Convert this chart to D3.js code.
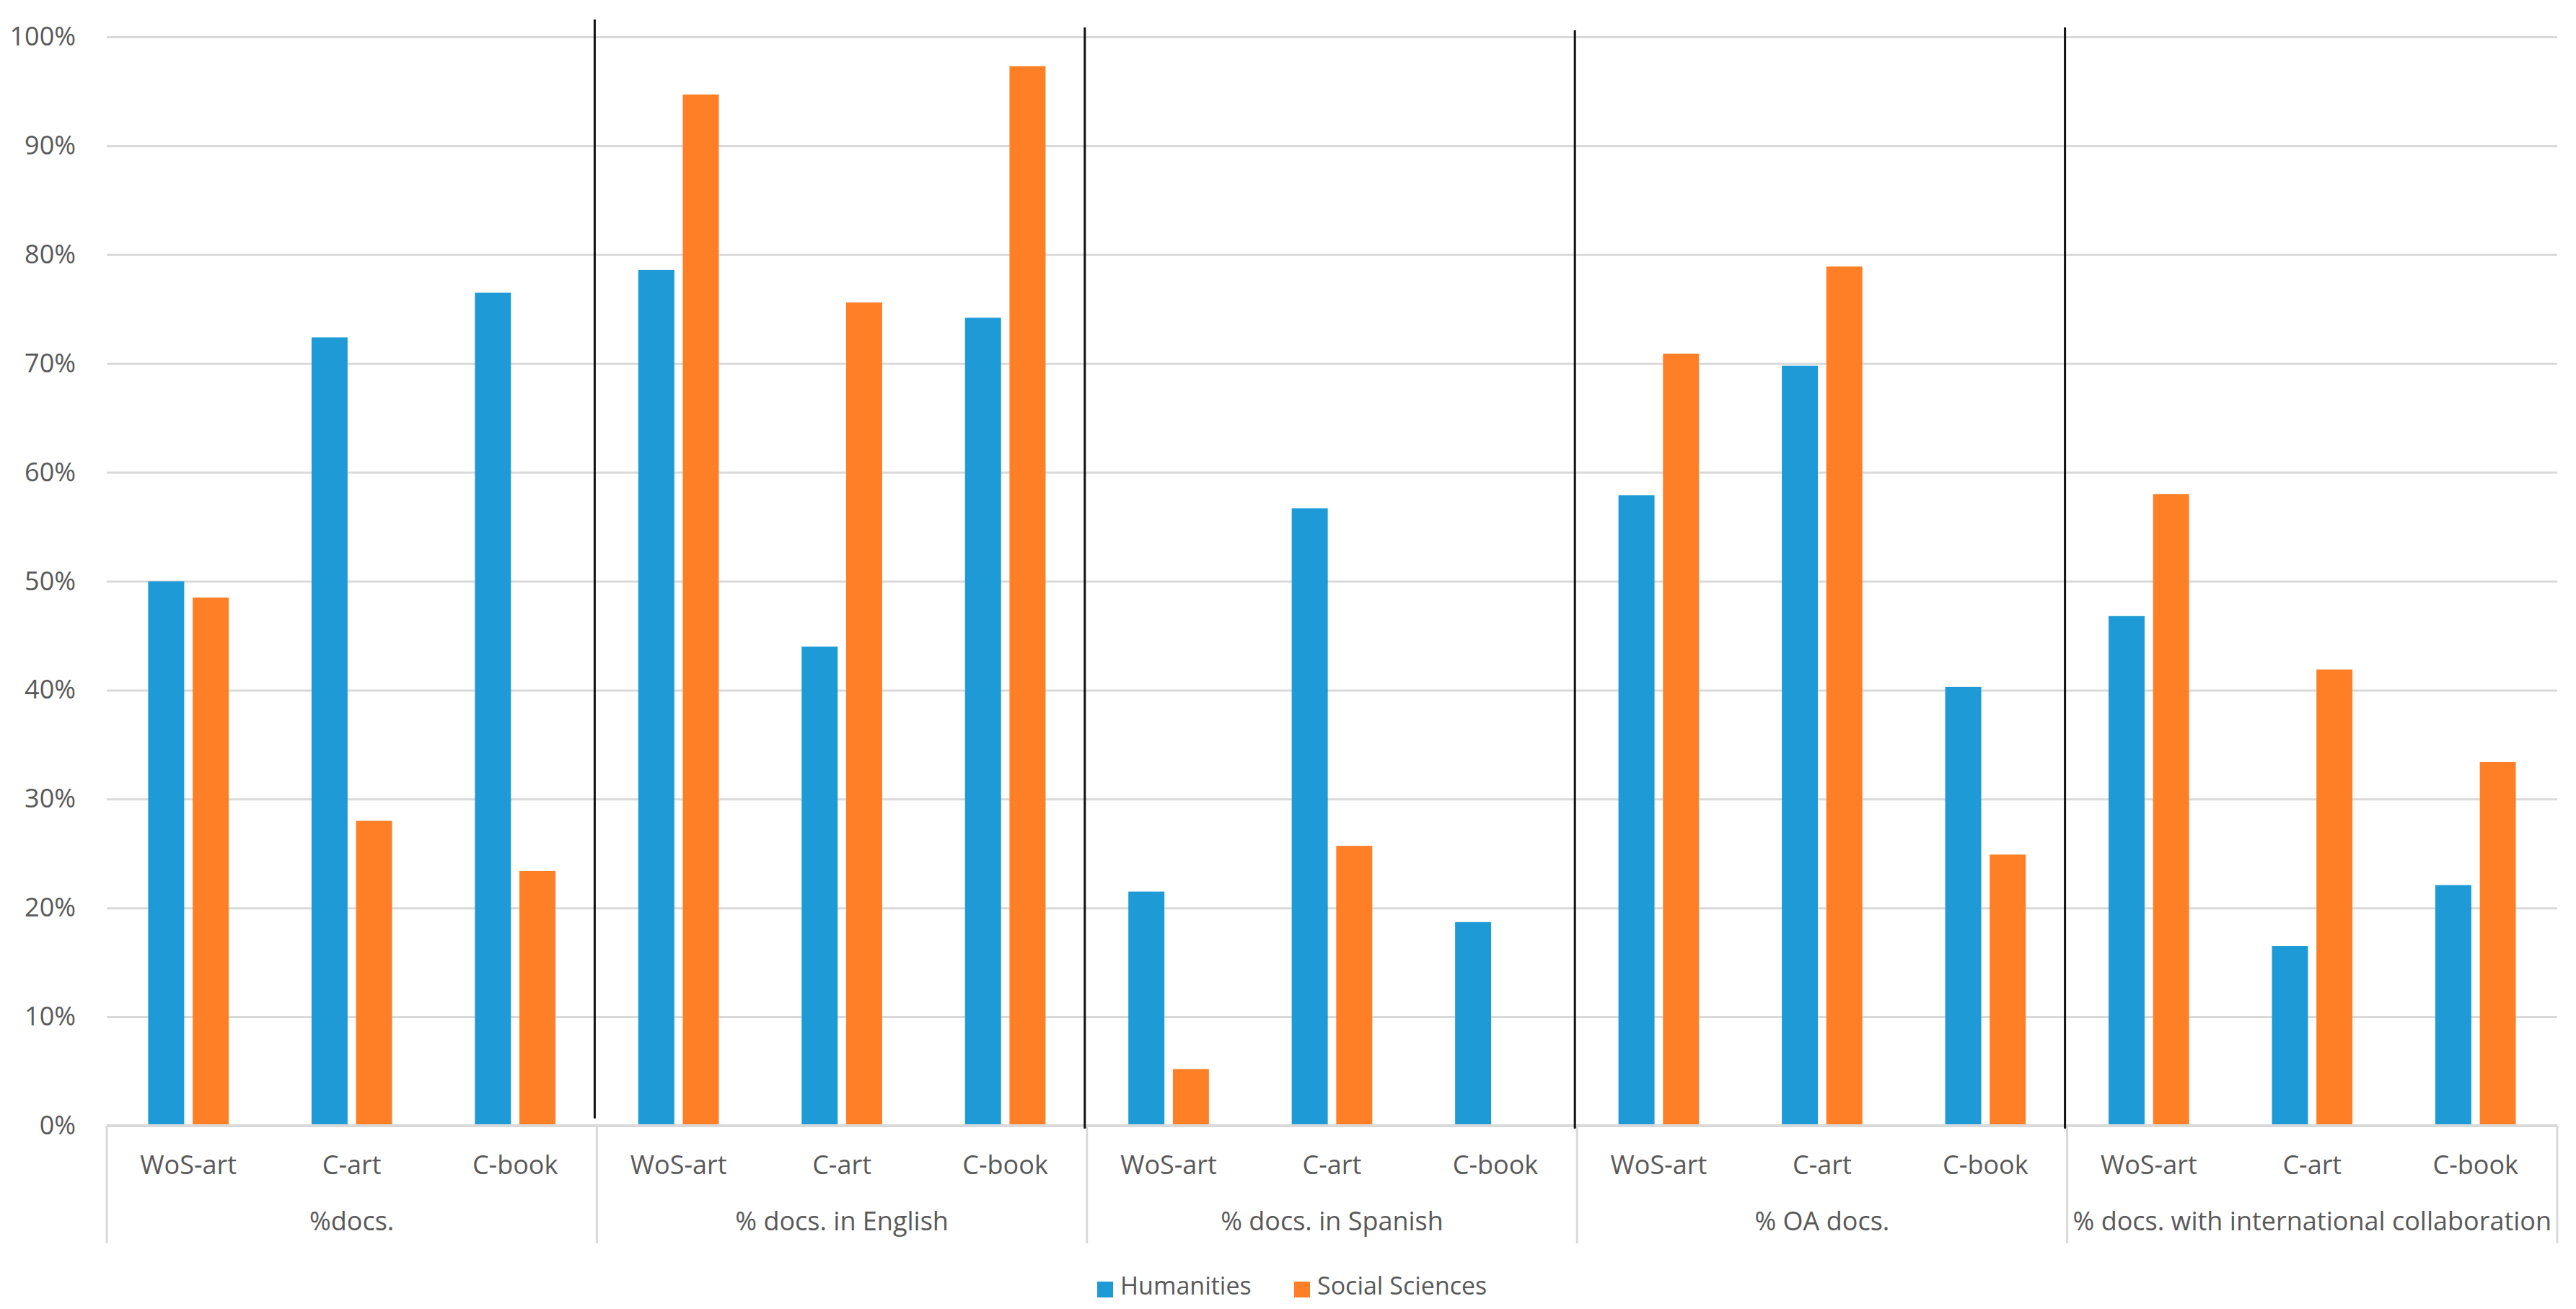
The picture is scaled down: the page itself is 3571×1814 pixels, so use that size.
<!DOCTYPE html>
<html>
<head>
<meta charset="utf-8">
<script src="https://cdn.jsdelivr.net/npm/d3@7"></script>
<style>
  body { margin: 0; background: #fff; }
  text { font-family: "Segoe UI", "Open Sans", sans-serif; fill: #595959; }
</style>
</head>
<body>
<div id="chart"></div>
<script>
// chart values
var groups = ["%docs.", "% docs. in English", "% docs. in Spanish", "% OA docs.", "% docs. with international collaboration"];
var docTypes = ["WoS-art", "C-art", "C-book"];
var seriesNames = ["Humanities", "Social Sciences"];
var humanities = [50.0, 72.4, 76.5, 78.6, 44.0, 74.2, 21.5, 56.7, 18.7, 57.9, 69.8, 40.3, 46.8, 16.5, 22.1];
var socialSciences = [48.5, 28.0, 23.4, 94.7, 75.6, 97.3, 5.2, 25.7, 0, 70.9, 78.9, 24.9, 58.0, 41.9, 33.4];
var yTicks = [0, 0.1, 0.2, 0.3, 0.4, 0.5, 0.6, 0.7, 0.8, 0.9, 1];
var colors = ["#1e9bd7", "#ff7f27"];

var svgWidth = 3571;
var svgHeight = 1814;

var chartMargin = { top: 51, right: 26, bottom: 254, left: 148 };
var width = svgWidth - chartMargin.left - chartMargin.right;
var height = svgHeight - chartMargin.top - chartMargin.bottom;

var svg = d3.select("#chart")
    .append("svg")
    .attr("width", svgWidth)
    .attr("height", svgHeight);

var chartGroup = svg.append("g")
    .attr("transform", `translate(${chartMargin.left}, ${chartMargin.top})`);

// build rows: one per group / doc type
var rows = [];
groups.forEach(function (g, gi) {
    docTypes.forEach(function (t, ti) {
        var i = gi * docTypes.length + ti;
        rows.push({ key: g + "|" + t, group: g, type: t, values: [humanities[i], socialSciences[i]] });
    });
});

var x0 = d3.scaleBand()
    .domain(rows.map(d => d.key))
    .range([0, width])
    .paddingInner(0.507)
    .paddingOuter(0.2535);

var x1 = d3.scaleBand()
    .domain(seriesNames)
    .range([0, x0.bandwidth()])
    .paddingInner(0.19);

var yScale = d3.scaleLinear()
    .domain([0, 1])
    .range([height, 0]);

var groupScale = d3.scaleBand()
    .domain(groups)
    .range([0, width]);

// gridlines
var grid = chartGroup.append("g")
    .call(d3.axisLeft(yScale).tickValues(yTicks).tickSize(-width).tickFormat(""));
grid.select(".domain").remove();
grid.selectAll("line").attr("stroke", "#d9d9d9").attr("stroke-width", 3);

// y labels
var yAxis = chartGroup.append("g")
    .attr("transform", "translate(-40,0)")
    .call(d3.axisLeft(yScale).tickValues(yTicks).tickSize(0).tickFormat(d3.format(".0%")));
yAxis.select(".domain").remove();
yAxis.selectAll("text")
    .style("font-size", "36px")
    .attr("fill", "#595959")
    .attr("font-family", null);

// bars
var catGroups = chartGroup.selectAll(".cat")
    .data(rows)
    .enter()
    .append("g")
    .attr("class", "cat")
    .attr("transform", d => `translate(${x0(d.key)},0)`);

catGroups.selectAll("rect")
    .data(d => d.values.map((v, i) => ({ name: seriesNames[i], value: v / 100, idx: i })))
    .enter()
    .append("rect")
    .attr("x", d => x1(d.name))
    .attr("width", x1.bandwidth())
    .attr("y", d => yScale(d.value))
    .attr("height", d => height - yScale(d.value))
    .attr("fill", d => colors[d.idx]);

// bottom axis line
chartGroup.append("line")
    .attr("x1", 0).attr("x2", width)
    .attr("y1", height).attr("y2", height)
    .attr("stroke", "#d9d9d9")
    .attr("stroke-width", 4);

// doc type labels
var xAxis = chartGroup.append("g")
    .attr("transform", `translate(0,${height})`)
    .call(d3.axisBottom(x0).tickSize(0).tickFormat(k => k.split("|")[1]));
xAxis.select(".domain").remove();
xAxis.selectAll("text")
    .attr("y", 67)
    .attr("dy", 0)
    .style("font-size", "36px")
    .attr("fill", "#595959")
    .attr("font-family", null);

// group separators under the axis
var bounds = groups.map(g => groupScale(g)).concat([width]);
chartGroup.selectAll(".sep")
    .data(bounds)
    .enter()
    .append("line")
    .attr("class", "sep")
    .attr("x1", d => d).attr("x2", d => d)
    .attr("y1", height).attr("y2", height + 163)
    .attr("stroke", "#d9d9d9")
    .attr("stroke-width", 3);

// group labels
chartGroup.selectAll(".glabel")
    .data(groups)
    .enter()
    .append("text")
    .attr("class", "glabel")
    .attr("x", d => groupScale(d) + groupScale.bandwidth() / 2)
    .attr("y", height + 145)
    .attr("text-anchor", "middle")
    .style("font-size", "36px")
    .text(d => d);

// black divider lines drawn between the groups
var dividerTops = [27, 38, 42, 38];
chartGroup.selectAll(".divider")
    .data(groups.slice(1))
    .enter()
    .append("line")
    .attr("class", "divider")
    .attr("x1", d => groupScale(d) - 3).attr("x2", d => groupScale(d) - 3)
    .attr("y1", (d, i) => dividerTops[i] - chartMargin.top)
    .attr("y2", (d, i) => i === 0 ? height - 10 : height + 4)
    .attr("stroke", "#111")
    .attr("stroke-width", 3);

// legend
var legend = svg.append("g")
    .attr("transform", "translate(1521,1776)");
var legendX = [0, 273];
seriesNames.forEach(function (name, i) {
    legend.append("rect")
        .attr("x", legendX[i]).attr("y", 0)
        .attr("width", 22).attr("height", 22)
        .attr("fill", colors[i]);
    legend.append("text")
        .attr("x", legendX[i] + 32)
        .attr("y", 18)
        .style("font-size", "34px")
        .text(name);
});
</script>
</body>
</html>
